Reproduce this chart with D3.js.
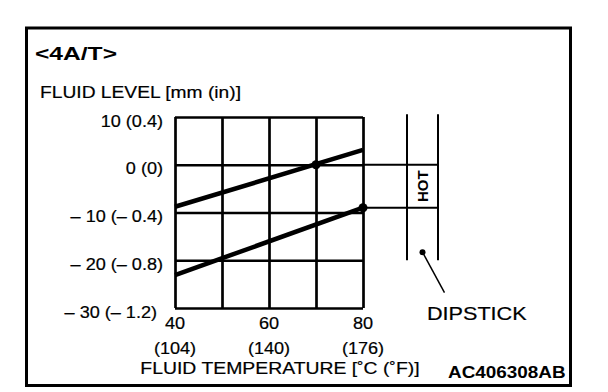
<!DOCTYPE html>
<html>
<head>
<meta charset="utf-8">
<script src="https://cdn.jsdelivr.net/npm/d3@7"></script>
<style>
  body { margin: 0; background: #fff; }
  svg text { font-family: "Liberation Sans", Arial, sans-serif; fill: #000; stroke: #000; stroke-width: 0.2px; }
  svg text.b { stroke: none; }
</style>
</head>
<body>
<div id="chart"></div>
<script>
// grid + tick values
const temps = [40, 50, 60, 70, 80];
const tempLabelValues = [40, 60, 80];
const tempLabelsF = ["(104)", "(140)", "(176)"];
const levels = [10, 0, -10, -20, -30];
const levelLabels = ["10 (0.4)", "0 (0)", "\u2013 10 (\u2013 0.4)", "\u2013 20 (\u2013 0.8)", "\u2013 30 (\u2013 1.2)"];

// the two fluid level lines
const lineTemps = [40, 80];
const upperLevels = [-8.8, 3.1];
const lowerLevels = [-23.1, -9];

// check points on the lines
const checkTemps = [70, 80];
const checkLevels = [0, -9];

// dipstick: HOT band and stick extent, in mm
const hotLevels = [0, -9];
const dipstickLevels = [10.6, -20];
const dipstickDotLevel = -18.3;
const leaderEndLevel = -26.8;

(function () {
  const width = 608, height = 392;
  const plot = { left: 175, right: 363, top: 117, bottom: 308 };
  const dip = { left: 407, right: 438 };

  const svg = d3.select("#chart").append("svg")
    .attr("width", width)
    .attr("height", height);

  // widen text a bit, the source font is broader than Arial
  function stretch(sel, k) {
    sel.each(function () {
      const w = this.getComputedTextLength();
      d3.select(this).attr("textLength", w * k).attr("lengthAdjust", "spacingAndGlyphs");
    });
  }

  const x = d3.scaleLinear().domain([40, 80]).range([plot.left, plot.right]);
  const y = d3.scaleLinear().domain([10, -30]).range([plot.top, plot.bottom]);

  // outer frame
  svg.append("rect")
    .attr("x", 26.5).attr("y", 28)
    .attr("width", 544).attr("height", 357.5)
    .attr("fill", "none").attr("stroke", "#000").attr("stroke-width", 3);

  // title
  svg.append("text")
    .attr("class", "b")
    .attr("x", 35).attr("y", 60)
    .attr("font-size", 19).attr("font-weight", "bold")
    .text("<4A/T>")
    .attr("textLength", 82).attr("lengthAdjust", "spacingAndGlyphs");

  svg.append("text")
    .attr("x", 40).attr("y", 98)
    .attr("font-size", 17)
    .text("FLUID LEVEL [mm (in)]")
    .call(stretch, 1.13);

  // horizontal grid + y labels
  const yAxis = svg.append("g")
    .attr("transform", "translate(" + plot.left + ",0)")
    .call(d3.axisLeft(y)
      .tickValues(levels)
      .tickSize(-(plot.right - plot.left))
      .tickPadding(12)
      .tickFormat((d, i) => levelLabels[i]));
  yAxis.select(".domain").remove();
  yAxis.selectAll(".tick line").attr("stroke", "#000").attr("stroke-width", 2.7);
  yAxis.selectAll(".tick text")
    .attr("font-size", 16)
    .attr("font-family", null)
    .attr("dy", 9)
    .attr("x", (d) => (d === -30 ? -18 : -12))
    .call(stretch, 1.13);

  // vertical grid
  const xAxis = svg.append("g")
    .attr("transform", "translate(0," + plot.bottom + ")")
    .call(d3.axisBottom(x)
      .tickValues(temps)
      .tickSize(-(plot.bottom - plot.top))
      .tickFormat(""));
  xAxis.select(".domain").remove();
  xAxis.selectAll(".tick line").attr("stroke", "#000").attr("stroke-width", 2.7);

  // x labels: deg C and deg F
  svg.selectAll(".xlabel")
    .data(tempLabelValues)
    .enter().append("text")
    .attr("class", "xlabel")
    .attr("x", (d) => x(d))
    .attr("y", 329)
    .attr("text-anchor", "middle")
    .attr("font-size", 16)
    .text((d) => d)
    .call(stretch, 1.13);

  svg.selectAll(".xlabelF")
    .data(tempLabelValues)
    .enter().append("text")
    .attr("class", "xlabelF")
    .attr("x", (d) => x(d))
    .attr("y", 354)
    .attr("text-anchor", "middle")
    .attr("font-size", 16)
    .text((d, i) => tempLabelsF[i])
    .call(stretch, 1.13);

  svg.append("text")
    .attr("x", 280).attr("y", 374)
    .attr("text-anchor", "middle")
    .attr("font-size", 17)
    .text("FLUID TEMPERATURE [\u02DAC (\u02DAF)]")
    .call(stretch, 1.14);

  // level lines
  const line = d3.line()
    .x((d) => x(d[0]))
    .y((d) => y(d[1]));

  [upperLevels, lowerLevels].forEach(function (vals) {
    svg.append("path")
      .datum(lineTemps.map((t, i) => [t, vals[i]]))
      .attr("d", line)
      .attr("fill", "none")
      .attr("stroke", "#000")
      .attr("stroke-width", 4.5);
  });

  // lines carried over to the dipstick
  svg.selectAll(".hot")
    .data(hotLevels)
    .enter().append("line")
    .attr("class", "hot")
    .attr("x1", plot.right).attr("x2", dip.right)
    .attr("y1", (d) => y(d)).attr("y2", (d) => y(d))
    .attr("stroke", "#000").attr("stroke-width", 2);

  svg.selectAll(".check")
    .data(checkTemps)
    .enter().append("circle")
    .attr("class", "check")
    .attr("cx", (d) => x(d))
    .attr("cy", (d, i) => y(checkLevels[i]))
    .attr("r", 4.5)
    .attr("fill", "#000");

  // dipstick
  [dip.left, dip.right].forEach(function (px) {
    svg.append("line")
      .attr("x1", px).attr("x2", px)
      .attr("y1", y(dipstickLevels[0])).attr("y2", y(dipstickLevels[1]))
      .attr("stroke", "#000").attr("stroke-width", 2);
  });

  const dipMid = (dip.left + dip.right) / 2;
  svg.append("text")
    .attr("class", "b")
    .attr("transform", "translate(" + (dipMid + 5.5) + "," + y((hotLevels[0] + hotLevels[1]) / 2) + ") rotate(-90)")
    .attr("text-anchor", "middle")
    .attr("font-size", 15)
    .attr("font-weight", "bold")
    .text("HOT");

  svg.append("circle")
    .attr("cx", dipMid).attr("cy", y(dipstickDotLevel))
    .attr("r", 3).attr("fill", "#000");
  svg.append("line")
    .attr("x1", dipMid).attr("y1", y(dipstickDotLevel))
    .attr("x2", dipMid + 22).attr("y2", y(leaderEndLevel))
    .attr("stroke", "#000").attr("stroke-width", 1.5);

  svg.append("text")
    .attr("x", 427).attr("y", 320)
    .attr("font-size", 18)
    .text("DIPSTICK")
    .call(stretch, 1.2);

  svg.append("text")
    .attr("class", "b")
    .attr("x", 448).attr("y", 378)
    .attr("font-size", 16)
    .attr("font-weight", "bold")
    .text("AC406308AB")
    .call(stretch, 1.18);
})();
</script>
</body>
</html>
